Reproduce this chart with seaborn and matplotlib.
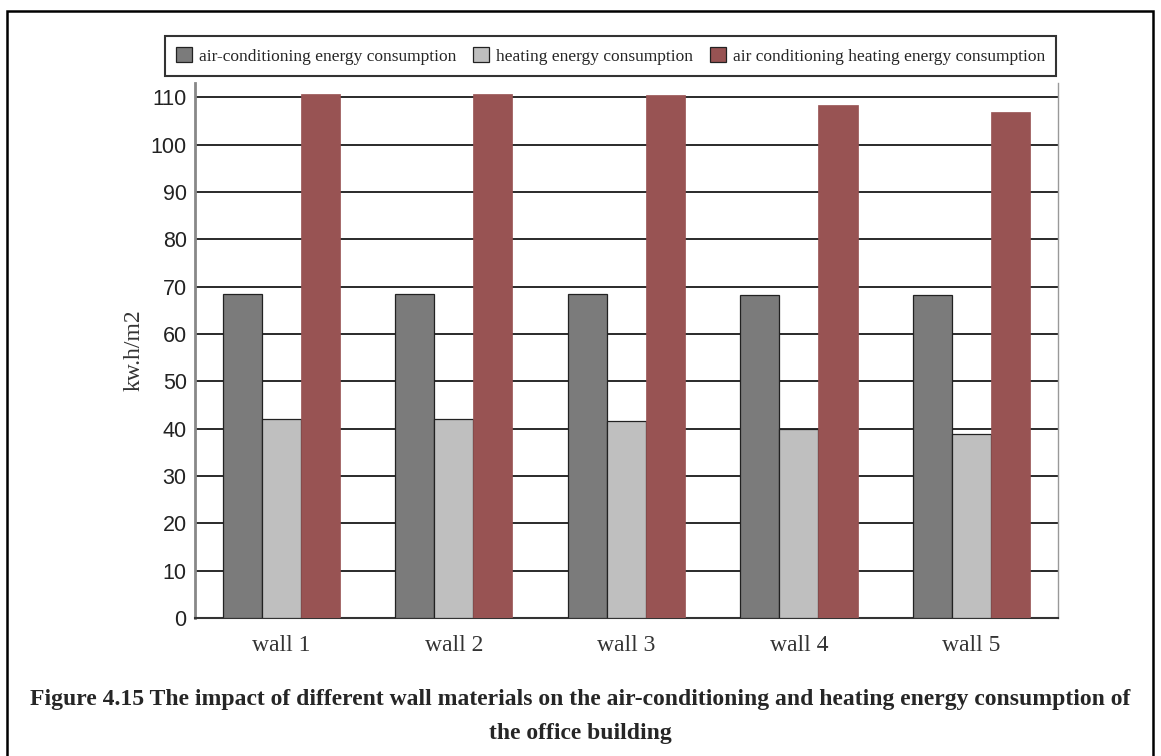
import pandas as pd
import numpy as np
import matplotlib
matplotlib.use("Agg")
import matplotlib.pyplot as plt
import seaborn as sns
from matplotlib.ticker import FixedLocator
from matplotlib.patches import Rectangle

# values
walls = ["wall 1", "wall 2", "wall 3", "wall 4", "wall 5"]
series = ["air-conditioning energy consumption",
          "heating energy consumption",
          "air conditioning heating energy consumption"]
ac_energy = [68.5, 68.5, 68.5, 68.2, 68.2]
heat_energy = [42.1, 42.1, 41.7, 39.9, 38.8]
total_energy = [110.8, 110.8, 110.5, 108.3, 107.0]
colors = ["#7b7b7b", "#bfbfbf", "#985353"]

df = pd.DataFrame({
    "wall": walls * 3,
    "kind": [series[0]] * 5 + [series[1]] * 5 + [series[2]] * 5,
    "value": ac_energy + heat_energy + total_energy,
})

sns.set_style("white")
plt.rcParams["font.family"] = ["Liberation Sans", "DejaVu Sans"]
serif = ["Liberation Serif", "DejaVu Serif"]

fig = plt.figure(figsize=(11.61, 7.56), dpi=100)
ax = fig.add_axes([0.168, 0.1825, 0.743, 0.7075])

sns.barplot(data=df, x="wall", y="value", hue="kind", hue_order=series,
            palette=colors, width=0.68, linewidth=0, saturation=1,
            ax=ax, legend=True, zorder=3)

# edges on the grey bars
for i, cont in enumerate(ax.containers):
    for p in cont:
        if i < 2:
            p.set_edgecolor("#222222")
            p.set_linewidth(0.9)
        else:
            p.set_edgecolor(colors[2])
            p.set_linewidth(0.5)

ax.set_ylim(0, 113)
ax.set_xlim(-0.5, 4.5)
ax.set_yticks(np.arange(0, 111, 10))
ax.yaxis.grid(True, color="#2a2a2a", linewidth=1.4, zorder=0)
ax.set_axisbelow(True)
ax.tick_params(axis="y", length=0, labelsize=15.5, pad=6, labelcolor="#222222")
ax.tick_params(axis="x", which="major", length=0, labelsize=17, pad=12,
               labelcolor="#333333")
for t in ax.get_xticklabels():
    t.set_family(serif)
ax.xaxis.set_minor_locator(FixedLocator([0.5, 1.5, 2.5, 3.5, 4.5]))
ax.tick_params(axis="x", which="minor", direction="in", length=6,
               width=1.2, color="#333333")

ax.set_xlabel("")
ax.set_ylabel("kw.h/m2", fontsize=17, family=serif, color="#333333", labelpad=4)

ax.spines["top"].set_visible(False)
ax.spines["left"].set_color("#888888")
ax.spines["left"].set_linewidth(2)
ax.spines["bottom"].set_color("#333333")
ax.spines["bottom"].set_linewidth(1.5)
ax.spines["right"].set_color("#999999")
ax.spines["right"].set_linewidth(1)

handles, labels = ax.get_legend_handles_labels()
ax.get_legend().remove()
for h in handles:
    h.set_edgecolor("#222222")
    h.set_linewidth(0.9)
leg = fig.legend(handles, labels, loc="center", bbox_to_anchor=(0.526, 0.926),
                 ncol=3, frameon=True, fancybox=False,
                 prop={"family": serif, "size": 12.5},
                 handlelength=0.9, handleheight=0.9, handletextpad=0.4,
                 columnspacing=1.0, borderpad=0.65, edgecolor="black")
leg.get_frame().set_linewidth(1.5)

# caption
fig.text(0.5, 0.075, "Figure 4.15 The impact of different wall materials on the "
         "air-conditioning and heating energy consumption of",
         ha="center", va="center", fontsize=17, fontweight="bold", family=serif)
fig.text(0.5, 0.030, "the office building", ha="center", va="center",
         fontsize=17, fontweight="bold", family=serif)

# outer frame
fig.patches.append(Rectangle((7 / 1161, -0.05), (1153 - 7) / 1161, 1.05 - 11 / 756,
                             transform=fig.transFigure, fill=False,
                             edgecolor="black", linewidth=1.8))

fig.savefig("out.png", dpi=100)
